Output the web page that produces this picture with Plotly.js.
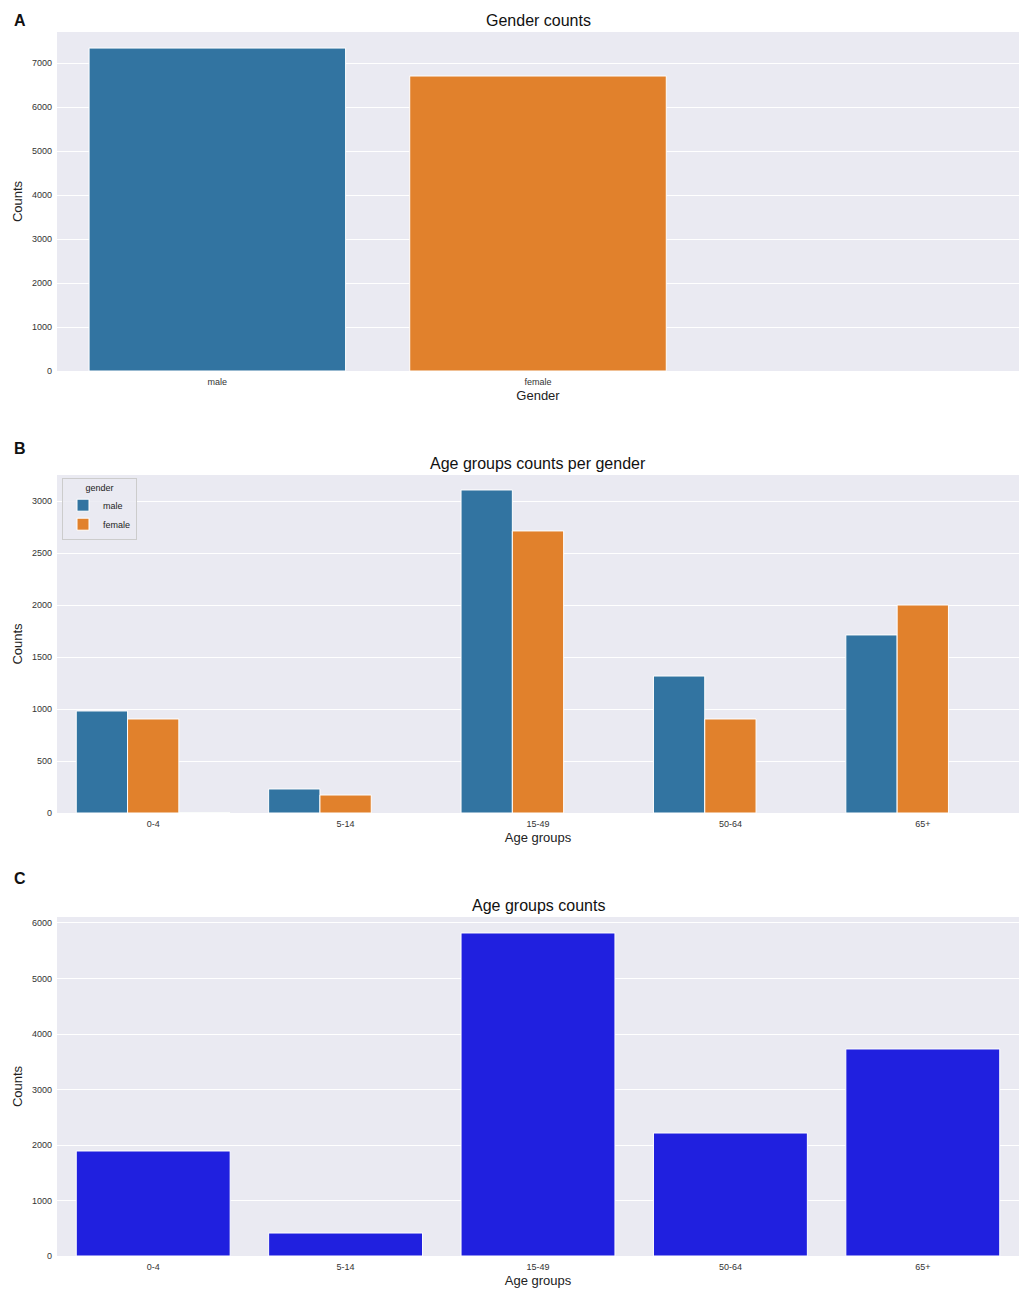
<!DOCTYPE html>
<html><head><meta charset="utf-8">
<script src="https://cdn.plot.ly/plotly-3.0.1.min.js"></script>
<style>body{margin:0;background:#fff}#c{width:1021px;height:1290px}</style>
</head><body><div id="c"></div>
<script>
// Panel A data
const genderCats = ['male', 'female'];
const genderCounts = [7340, 6705];
// Panel B data
const ageCats = ['0-4', '5-14', '15-49', '50-64', '65+'];
const maleAge = [981, 231, 3106, 1317, 1712];
const femaleAge = [904, 173, 2712, 904, 2000];
const otherAge = [4, null, null, null, null];
// Panel C data
const ageTotals = [1892, 414, 5820, 2216, 3730];

const BLUE = '#3274a1', ORANGE = '#e1812c', PURE = '#2020df';
const FONT = 'Liberation Sans, Arial, sans-serif';
const outline = {color: '#ffffff', width: 1};

const traces = [
  {type: 'bar', x: genderCats, y: genderCounts, xaxis: 'x', yaxis: 'y',
   marker: {color: [BLUE, ORANGE], line: outline}, showlegend: false},
  {type: 'bar', name: 'male', x: ageCats, y: maleAge, xaxis: 'x2', yaxis: 'y2',
   marker: {color: BLUE, line: outline}},
  {type: 'bar', name: 'female', x: ageCats, y: femaleAge, xaxis: 'x2', yaxis: 'y2',
   marker: {color: ORANGE, line: outline}},
  {type: 'bar', name: 'other', x: ageCats, y: otherAge, xaxis: 'x2', yaxis: 'y2',
   marker: {color: '#3a923a', line: outline}, showlegend: false},
  {type: 'bar', x: ageCats, y: ageTotals, xaxis: 'x3', yaxis: 'y3',
   marker: {color: PURE, line: outline}, showlegend: false}
];

const xd = [57/1021, 1019/1021];
function xax(anchor, rng) {
  return {domain: xd, anchor: anchor, type: 'category', range: rng,
    showgrid: false, zeroline: false, showline: false, ticks: '',
    tickfont: {size: 9, color: '#333', family: FONT}, ticklabelstandoff: 4,
    title: {font: {size: 13, color: '#222', family: FONT}, standoff: 4}};
}
function yax(anchor, dom, rng, dt) {
  return {domain: dom, anchor: anchor, range: rng, dtick: dt,
    showgrid: true, gridcolor: '#ffffff', gridwidth: 1, zeroline: false,
    showline: false, ticks: '', tickfont: {size: 9, color: '#333', family: FONT},
    ticklabelstandoff: 4,
    title: {text: 'Counts', font: {size: 13, color: '#222', family: FONT}, standoff: 6}};
}

const xa = xax('y', [-0.5, 2.5]); xa.title.text = 'Gender';
const xb = xax('y2', [-0.5, 4.5]); xb.title.text = 'Age groups';
const xc = xax('y3', [-0.5, 4.5]); xc.title.text = 'Age groups';

function ann(text, x, y, size, bold) {
  return {text: bold ? '<b>' + text + '</b>' : text, xref: 'paper', yref: 'paper',
    x: x/1021, y: 1 - y/1290, xanchor: 'center', yanchor: 'middle', showarrow: false,
    font: {size: size, color: '#111', family: FONT}};
}

const layout = {
  width: 1021, height: 1290, margin: {l: 0, r: 0, t: 0, b: 0},
  paper_bgcolor: '#ffffff', plot_bgcolor: '#eaeaf2',
  barmode: 'group', bargap: 0.2, bargroupgap: 0,
  font: {family: FONT},
  xaxis: xa, yaxis: yax('x', [1 - 371/1290, 1 - 32/1290], [0, 7705], 1000),
  xaxis2: xb, yaxis2: yax('x2', [1 - 813/1290, 1 - 475/1290], [0, 3250], 500),
  xaxis3: xc, yaxis3: yax('x3', [1 - 1256/1290, 1 - 917/1290], [0, 6108], 1000),
  showlegend: true,
  legend: {x: 62/1021, y: 1 - 478/1290, xanchor: 'left', yanchor: 'top',
    bgcolor: 'rgba(234,234,242,0.85)', bordercolor: '#cccccc', borderwidth: 1,
    font: {size: 9, color: '#222', family: FONT},
    title: {text: 'gender', side: 'top center', font: {size: 9, color: '#222', family: FONT}},
    tracegroupgap: 0, itemwidth: 30},
  annotations: [
    ann('A', 20, 20, 16, true), ann('B', 20, 449, 16, true), ann('C', 20, 878, 16, true),
    ann('Gender counts', 538, 20, 16, false),
    ann('Age groups counts per gender', 538, 463, 16, false),
    ann('Age groups counts', 538, 905, 16, false)
  ]
};

Plotly.newPlot('c', traces, layout, {displayModeBar: false, staticPlot: true});
</script></body></html>
